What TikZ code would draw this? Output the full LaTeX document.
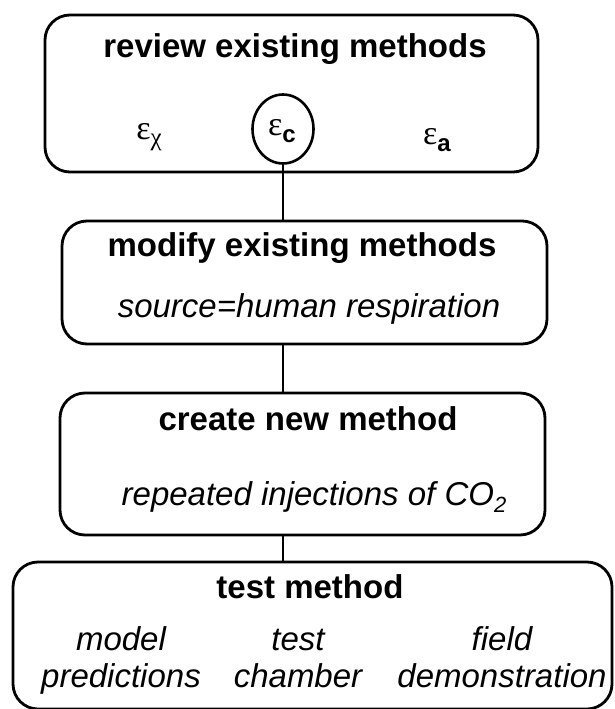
\documentclass[tikz,border=0pt]{standalone}
\usepackage{fontspec}
\setmainfont{Liberation Sans}
\newfontfamily\grk{Liberation Serif}
\usetikzlibrary{shapes.geometric}
\begin{document}
\begin{tikzpicture}[x=1pt,y=-1pt,
  box/.style={draw, line width=2.8pt, rounded corners=25pt, inner sep=0pt},
  titletext/.style={font=\fontsize{33}{36}\selectfont\bfseries, inner sep=0pt, anchor=base},
  notetext/.style={font=\fontsize{33}{36}\selectfont\itshape, inner sep=0pt, anchor=base},
  symtext/.style={font=\fontsize{34}{36}\selectfont, inner sep=0pt, anchor=base},
  link/.style={line width=2pt}]
\useasboundingbox (0,0) rectangle (615,709);
\clip (0,0) rectangle (615,709);
% boxes
\node[box, minimum width=493pt, minimum height=157pt] (b1) at (291.5,93.5) {};
\node[box, minimum width=485pt, minimum height=123pt] (b2) at (304.5,282.5) {};
\node[box, minimum width=485pt, minimum height=142pt] (b3) at (302.5,464) {};
\node[box, minimum width=599pt, minimum height=147pt] (b4) at (312.5,635.5) {};
\node[ellipse, draw, line width=2.6pt, minimum width=61pt, minimum height=69pt, inner sep=0pt] (eps) at (283,129) {};
% texts
\node[titletext] (t1) at (295,58) {review existing methods};
\node[symtext] (ex) at (149,139) {{\grk ε}\raisebox{-6pt}{\fontsize{25}{25}\selectfont\grk χ}};
\node[symtext] (ec) at (282,135) {{\grk ε}\raisebox{-7pt}{\fontsize{24}{24}\selectfont\bfseries c}};
\node[symtext] (ea) at (437,144) {{\grk ε}\raisebox{-7pt}{\fontsize{24}{24}\selectfont\bfseries a}};
\node[titletext] (t2) at (302,256) {modify existing methods};
\node[notetext] (n2) at (309,317) {source=human respiration};
\node[titletext] (t3) at (308,430) {create new method};
\node[notetext] (n3) at (314,505) {repeated injections of CO\raisebox{-7pt}{\fontsize{22}{22}\selectfont 2}};
\node[titletext] (t4) at (310,598) {test method};
\node[notetext] (m1) at (121,650) {model};
\node[notetext] (m2) at (121,687) {predictions};
\node[notetext] (c1) at (298,650) {test};
\node[notetext] (c2) at (298,687) {chamber};
\node[notetext] (f1) at (502,650) {field};
\node[notetext] (f2) at (502,687) {demonstration};
% connectors
\draw[link] (eps.south) -- (eps.south |- b2.north);
\draw[link] (eps.south |- b2.south) -- (eps.south |- b3.north);
\draw[link] (eps.south |- b3.south) -- (eps.south |- b4.north);
\end{tikzpicture}
\end{document}
